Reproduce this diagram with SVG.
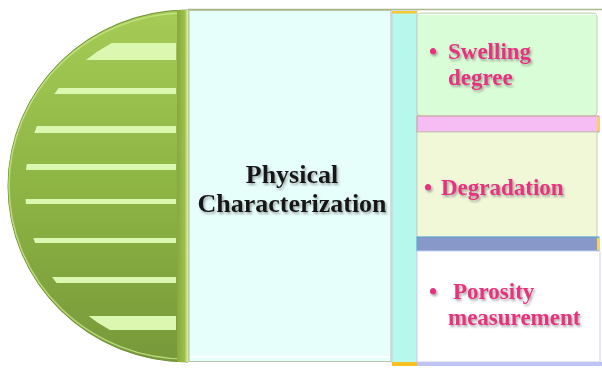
<svg xmlns="http://www.w3.org/2000/svg" width="602" height="369" viewBox="0 0 602 369">
<defs>
<linearGradient id="gGreen" x1="0" y1="0" x2="0" y2="1">
<stop offset="0" stop-color="#a6cb56"/>
<stop offset="0.5" stop-color="#8db544"/>
<stop offset="1" stop-color="#78983a"/>
</linearGradient>
<linearGradient id="gEdge" x1="0" y1="0" x2="1" y2="0">
<stop offset="0" stop-color="#86a83e"/>
<stop offset="0.7" stop-color="#9cc04c"/>
<stop offset="1" stop-color="#e8f5a8"/>
</linearGradient>
<clipPath id="cInner">
<circle cx="188" cy="187" r="163"/>
</clipPath>
<filter id="sh" x="-10%" y="-30%" width="130%" height="170%">
<feDropShadow dx="1.5" dy="2" stdDeviation="1.2" flood-color="#707070" flood-opacity="0.6"/>
</filter>
<style>
.stripe{fill:#dcf8b0}
.pink{font-family:"Liberation Serif","Times New Roman",serif;font-weight:bold;font-size:23px;fill:#e6307f;filter:url(#sh)}
.dark{font-family:"Liberation Serif","Times New Roman",serif;font-weight:bold;font-size:26px;fill:#141414;text-anchor:middle;filter:url(#sh)}
</style>
</defs>
<rect width="602" height="369" fill="#ffffff"/>
<g id="connectors"/>
<g id="half-disc">
<path d="M188,10 A180,176 0 0 0 188,362 Z" fill="url(#gGreen)" stroke="#6f8f34" stroke-width="1"/>
<path d="M186,13 A177,173 0 0 0 186,359" fill="none" stroke="#c8e888" stroke-width="1.5" opacity="0.8"/>
<g clip-path="url(#cInner)">
<rect class="stripe" x="0" y="43" width="176" height="17"/>
<rect class="stripe" x="0" y="88" width="176" height="6"/>
<rect class="stripe" x="0" y="126" width="176" height="7"/>
<rect class="stripe" x="0" y="164" width="176" height="6"/>
<rect class="stripe" x="0" y="199" width="176" height="5"/>
<rect class="stripe" x="0" y="238" width="176" height="5"/>
<rect class="stripe" x="0" y="277" width="176" height="6"/>
<rect class="stripe" x="0" y="316" width="176" height="14"/>
</g>
<rect x="177" y="10" width="11" height="352" fill="url(#gEdge)"/>
</g>
<line x1="188" y1="9.5" x2="602" y2="9.5" stroke="#a9b888" stroke-width="1.5"/>
<g id="physical-characterization">
<rect x="189" y="10.5" width="202" height="351" fill="#e6fffb" stroke="#b8c4a8" stroke-width="1"/>
<line x1="190" y1="357" x2="390" y2="357" stroke="#ffffff" stroke-width="1.5"/>
<text class="dark" x="292"><tspan x="292" y="183">Physical</tspan><tspan x="292" y="212">Characterization</tspan></text>
</g>
<g id="cyan-strip">
<rect x="392" y="11" width="25" height="352" fill="#b6f8ec" stroke="#c8c8ee" stroke-width="1"/>
<rect x="392" y="11" width="25" height="2.5" fill="#f8c830"/>
<rect x="392" y="362" width="25" height="4" fill="#f8c020"/>
</g>
<g id="swelling-degree">
<rect x="417" y="13" width="180" height="103" rx="4" fill="#d9fdd6" stroke="#c8ccc0" stroke-width="1"/>
<line x1="418" y1="14.5" x2="596" y2="14.5" stroke="#f4fff2" stroke-width="1"/>
<rect x="417" y="116" width="182" height="16" fill="#f6bdf4" stroke="#caa090" stroke-width="1"/>
<rect x="597" y="117" width="3" height="14" fill="#f6d070"/>
<text class="pink"><tspan x="429" y="59">•</tspan><tspan x="448" y="59">Swelling</tspan><tspan x="448" y="84.5">degree</tspan></text>
</g>
<g id="degradation">
<rect x="417" y="132" width="180" height="105" fill="#f0f8d8" stroke="#c8ccc0" stroke-width="1"/>
<rect x="417" y="237" width="182" height="14" fill="#8898c8" stroke="#50a8d8" stroke-width="1"/>
<rect x="597" y="238" width="3" height="12" fill="#f6d070"/>
<text class="pink"><tspan x="424" y="195">•</tspan><tspan x="441" y="195">Degradation</tspan></text>
</g>
<g id="porosity-measurement">
<rect x="417" y="251" width="183" height="111" fill="#ffffff" stroke="#d0d0f4" stroke-width="1"/>
<rect x="417" y="362" width="185" height="4" fill="#c0c4f4"/>
<text class="pink"><tspan x="429" y="299">•</tspan><tspan x="453" y="299">Porosity</tspan><tspan x="448" y="324.5">measurement</tspan></text>
</g>
</svg>
